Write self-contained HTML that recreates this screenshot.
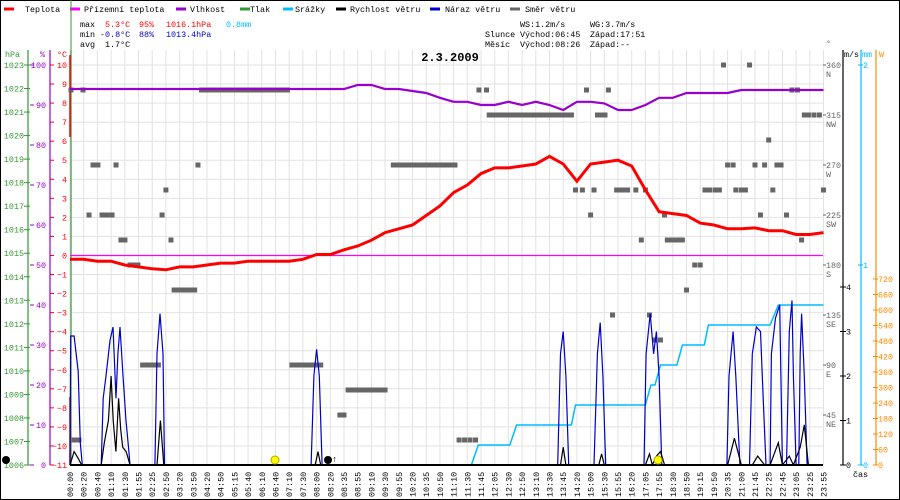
<!DOCTYPE html>
<html><head><meta charset="utf-8"><style>
body{margin:0;background:#fff}
svg{display:block;font-family:"Liberation Mono",monospace}
</style></head><body>
<svg id="c" width="900" height="500" viewBox="0 0 900 500">
<rect x="0.5" y="0.5" width="899" height="499" fill="#fff" stroke="#000"/>
<g id="grid"></g>
<g id="legend" font-size="8.4">
 <line x1="4" y1="9" x2="14" y2="9" stroke="#f00" stroke-width="3"/><text x="25" y="12">Teplota</text>
 <line x1="70" y1="9" x2="80" y2="9" stroke="#f0f" stroke-width="3"/><text x="84" y="12">Přízemní teplota</text>
 <line x1="176" y1="9" x2="186" y2="9" stroke="#90c" stroke-width="3"/><text x="190" y="12">Vlhkost</text>
 <line x1="240" y1="9" x2="250" y2="9" stroke="#393" stroke-width="3"/><text x="250" y="12">Tlak</text>
 <line x1="283" y1="9" x2="293" y2="9" stroke="#0bf" stroke-width="3"/><text x="295" y="12">Srážky</text>
 <line x1="336" y1="9" x2="346" y2="9" stroke="#000" stroke-width="3"/><text x="350" y="12">Rychlost větru</text>
 <line x1="430" y1="9" x2="440" y2="9" stroke="#00c" stroke-width="3"/><text x="445" y="12">Náraz větru</text>
 <line x1="510" y1="9" x2="520" y2="9" stroke="#666" stroke-width="3"/><text x="525" y="12">Směr větru</text>
</g>
<g font-size="8.4">
 <text x="80" y="27">max</text><text x="105" y="27" fill="#f00">5.3°C</text><text x="139" y="27" fill="#f00">95%</text><text x="166" y="27" fill="#f00">1016.1hPa</text><text x="226" y="27" fill="#0bf">0.8mm</text>
 <text x="80" y="37">min</text><text x="100" y="37" fill="#00c">-0.8°C</text><text x="139" y="37" fill="#00c">88%</text><text x="166" y="37" fill="#00c">1013.4hPa</text>
 <text x="80" y="47">avg</text><text x="105" y="47">1.7°C</text>
 <text x="520" y="27">WS:1.2m/s</text><text x="590" y="27">WG:3.7m/s</text>
 <text x="485" y="37">Slunce</text><text x="520" y="37">Východ:06:45</text><text x="590" y="37">Západ:17:51</text>
 <text x="485" y="47">Měsíc</text><text x="520" y="47">Východ:08:26</text><text x="590" y="47">Západ:--</text>
</g>
<text x="450" y="61" font-size="12" font-weight="bold" text-anchor="middle">2.3.2009</text>
<g id="axes" font-size="8.4"></g>
<g id="series"></g>
</svg>
<script>
const NS="http://www.w3.org/2000/svg";
const timeLabels=["00:00","00:20","00:40","01:10","01:30","01:55","02:25","02:50","03:20","03:50","04:20","04:50","05:15","05:40","06:10","06:40","07:10","07:30","08:00","08:20","08:35","08:55","09:10","09:30","09:55","10:20","10:35","10:50","11:10","11:30","11:45","12:05","12:30","12:50","13:10","13:30","13:45","14:20","15:00","15:30","15:55","16:20","17:05","17:55","18:30","18:50","19:15","19:50","20:35","21:00","21:45","22:25","22:45","23:05","23:25","23:55"];
const tempValues=[-0.2,-0.2,-0.3,-0.3,-0.5,-0.6,-0.7,-0.75,-0.6,-0.6,-0.5,-0.4,-0.4,-0.3,-0.3,-0.3,-0.3,-0.2,0.05,0.05,0.3,0.5,0.8,1.2,1.4,1.6,2.1,2.6,3.3,3.7,4.3,4.6,4.6,4.7,4.8,5.2,4.8,3.9,4.8,4.9,5.0,4.7,3.45,2.3,2.2,2.1,1.7,1.6,1.4,1.4,1.45,1.3,1.3,1.1,1.1,1.2];
const humValues=[94,94,94,94,94,94,94,94,94,94,94,94,94,94,94,94,94,94,94,94,94,95,95,94,94,93.5,93,91.8,90.8,90.8,90,90,90.8,90,90.8,90,88.75,90.8,90.8,90.4,88.75,88.75,90,91.8,91.8,93,93,93,93,93.75,93.75,93.75,93.75,93.75,93.75,93.75];
const groundTemp=[0,0];
const dirTimes=[
0.07,0.3,0.65,0.95,1.39,1.68,2.04,2.34,2.7,3.07,3.36,3.72,4.01,4.38,4.67,4.96,
5.3,5.6,5.9,6.2,6.45,6.72,7.0,7.37,7.6,7.9,8.2,8.5,8.8,9.1,9.34,
9.6,9.93,10.26,10.59,10.92,11.25,11.58,11.91,12.24,12.57,12.9,13.23,13.56,13.89,14.22,14.55,14.88,15.21,15.54,15.87,
16.2,16.5,16.8,17.1,17.4,17.7,18.0,18.3,
19.7,20.0,
20.3,20.6,20.9,21.2,21.5,21.8,22.1,22.4,22.7,23.0,
23.6,23.9,24.2,24.5,24.8,25.1,25.4,25.7,26.0,26.3,26.6,26.9,27.2,27.5,27.8,28.1,
28.4,28.8,29.2,29.6,
29.85,30.4,
30.6,30.9,31.2,31.5,31.8,32.1,32.4,32.7,33.0,33.3,33.6,33.9,34.2,34.5,34.8,35.1,35.4,35.7,36.0,36.3,36.6,
36.9,37.4,37.7,38.0,38.25,38.5,38.8,39.05,39.3,39.6,39.9,40.2,40.5,40.7,41.3,41.7,42.0,42.3,42.7,43.1,
43.4,43.6,43.9,44.2,44.5,44.7,45.0,45.6,46.0,46.35,46.7,47.1,47.4,47.7,48.0,48.4,48.6,49.0,49.3,
49.6,50.0,50.4,50.7,51.0,51.3,51.6,51.9,52.3,52.7,53.1,53.4,53.6,53.9,54.3,54.7,55.0];
const dirValues=[
337.5,22.5,22.5,337.5,225,270,270,225,225,225,270,202.5,202.5,180,180,180,
90,90,90,90,90,225,247.5,202.5,157.5,157.5,157.5,157.5,157.5,157.5,270,
337.5,337.5,337.5,337.5,337.5,337.5,337.5,337.5,337.5,337.5,337.5,337.5,337.5,337.5,337.5,337.5,337.5,337.5,337.5,337.5,
90,90,90,90,90,90,90,90,
45,45,
67.5,67.5,67.5,67.5,67.5,67.5,67.5,67.5,67.5,67.5,
270,270,270,270,270,270,270,270,270,270,270,270,270,270,270,270,
22.5,22.5,22.5,22.5,
337.5,337.5,
315,315,315,315,315,315,315,315,315,315,315,315,315,315,315,315,315,315,315,315,315,
247.5,247.5,337.5,225,247.5,315,315,315,337.5,135,247.5,247.5,247.5,247.5,247.5,202.5,247.5,135,112.5,112.5,
225,202.5,202.5,202.5,202.5,202.5,157.5,180,180,247.5,247.5,247.5,247.5,360,270,270,247.5,247.5,247.5,
360,270,225,270,292.5,247.5,270,270,225,337.5,337.5,202.5,315,315,315,315,247.5];
const gustTimes=[0,0.05,0.3,0.6,0.75,0.9,2.28,2.42,2.63,2.92,3.14,3.36,3.5,3.65,3.87,4.09,4.3,4.38,6.2,6.35,6.57,6.79,6.9,17.6,17.8,18.0,18.2,18.4,35.6,35.8,36.0,36.2,36.4,38.25,38.5,38.7,38.9,39.1,41.9,42.05,42.35,42.6,42.8,43.0,43.2,47.95,48.1,48.4,48.6,48.9,49.6,49.8,50.1,50.4,50.6,50.8,51.1,51.2,51.5,51.8,52.0,52.3,52.5,52.7,52.8,53.0,53.2,53.3,53.4,53.6,53.8,54.0];
const gustValues=[0,2.9,2.9,2.1,0.5,0,0,1.5,2.0,2.8,3.1,1.5,2.5,3.1,2.0,1.0,0.3,0,0,2.5,3.4,2.5,0,0,2.0,2.6,2.0,0,0,2.5,3.0,2.0,0,0,2.5,3.2,2.0,0,0,2.5,3.4,2.5,3.0,2.0,0,0,2.0,3.0,2.0,0,0,2.5,3.1,3.0,1.5,0,0,2.5,3.3,3.6,0,0,3.0,3.7,2.0,0,0,2.5,3.4,2.0,0,0];
const windTimes=[0,0.3,0.6,0.85,2.28,2.5,2.8,3.0,3.15,3.35,3.55,3.7,3.85,4.1,4.38,6.35,6.6,6.85,17.9,18.1,18.3,35.8,36.0,36.2,38.6,38.8,39.0,42.0,42.3,42.5,42.8,43.1,43.4,48.0,48.5,49.0,49.8,50.2,50.7,51.1,51.7,52.0,52.5,52.8,53.3,53.6,53.9];
const windValues=[0,0.3,0.15,0,0,0.5,1.0,2.0,1.0,0.3,1.5,0.8,0.4,0.3,0,0,1.0,0,0,0.3,0,0,0.4,0,0,0.25,0,0,0.25,0,0.2,0.3,0,0,0.6,0,0,0.2,0,0,0.5,0,0.2,0,0.4,0.9,0];
const rainTimes=[0,29.3,29.8,32.1,32.6,36.6,36.9,42.0,42.4,42.7,43.1,44.3,44.7,46.3,46.6,51.1,51.7,55];
const rainValues=[0,0,0.1,0.1,0.2,0.2,0.3,0.3,0.4,0.4,0.5,0.5,0.6,0.6,0.7,0.7,0.8,0.8];
const tempTicks=[10,9,8,7,6,5,4,3,2,1,0,-1,-2,-3,-4,-5,-6,-7,-8,-9,-10,-11];
const hpaTicks=[1023,1022,1021,1020,1019,1018,1017,1016,1015,1014,1013,1012,1011,1010,1009,1008,1007,1006];
const humTicks=[100,90,80,70,60,50,40,30,20,10,0];
const dirTicks=[360,315,270,225,180,135,90,45];
const dirNames=["N","NW","W","SW","S","SE","E","NE"];
const msTicks=[0,1,2,3,4];
const mmTicks=[0,1,2];
const wTicks=[0,60,120,180,240,300,360,420,480,540,600,660,720];

const X0=70,DX=13.7,YT=65,YB=465;
const xOf=t=>X0+t*DX;
const yT=v=>YT+(10-v)*(YB-YT)/21;
const yH=v=>YB-v*4;
const yD=v=>YB-v*400/360;
const yW=v=>YB-v*44.5;
const yMm=v=>YB-v*200;
const yP=v=>YT+(1023-v)*(YB-YT)/17;
const yWatt=v=>YB-v*(YB-279)/720;
function el(tag,attrs,parent,txt){const e=document.createElementNS(NS,tag);for(const k in attrs)e.setAttribute(k,attrs[k]);if(txt!==undefined)e.textContent=txt;parent.appendChild(e);return e;}
const grid=document.getElementById('grid'),axes=document.getElementById('axes'),ser=document.getElementById('series');
timeLabels.forEach((lab,i)=>{
 const x=xOf(i);
 const g=el('line',{x1:x,y1:50,x2:x,y2:YB,stroke:'#e2e2e2'},grid);
 
 
 const t=el('text',{x:0,y:0,transform:`translate(${x+3},497) rotate(-90)`,'font-size':'8.4'},axes,lab);
 
 
});
tempTicks.forEach(v=>{
 const y=yT(v);
 const g=el('line',{x1:X0,y1:y,x2:823,y2:y,stroke:'#e2e2e2'},grid);
 
 
 el('line',{x1:50,y1:y,x2:54,y2:y,stroke:'#f00'},axes);
 const t=el('text',{x:67,y:y+3,fill:'#f00','text-anchor':'end'},axes,v<0?'−'+(-v):String(v));
 
 
});
hpaTicks.forEach(v=>{const y=yP(v);el('line',{x1:24,y1:y,x2:30,y2:y,stroke:'#393'},axes);
 const t=el('text',{x:24,y:y+3,fill:'#393','text-anchor':'end'},axes,String(v));
 
 });
humTicks.forEach(v=>{const y=yH(v);el('line',{x1:30,y1:y,x2:34,y2:y,stroke:'#90c'},axes);
 const t=el('text',{x:46,y:y+3,fill:'#90c','text-anchor':'end'},axes,String(v));
 
 });
dirTicks.forEach((v,i)=>{const y=yD(v);el('line',{x1:823,y1:y,x2:826,y2:y,stroke:'#666'},axes);
 const t=el('text',{x:826,y:y+3,fill:'#666'},axes,String(v));
 
 
 el('text',{x:826,y:y+12,fill:'#666'},axes,dirNames[i]);});
msTicks.forEach(v=>{const y=yW(v);el('line',{x1:840,y1:y,x2:846,y2:y,stroke:'#000'},axes);
 const t=el('text',{x:846,y:y+3},axes,String(v));
 
 });
mmTicks.forEach(v=>{const y=yMm(v);el('line',{x1:858,y1:y,x2:863,y2:y,stroke:'#0bf'},axes);
 const t=el('text',{x:863,y:y+3,fill:'#0bf'},axes,String(v));
 
 });
wTicks.forEach(v=>{const y=yWatt(v);el('line',{x1:873,y1:y,x2:878,y2:y,stroke:'#f80'},axes);
 const t=el('text',{x:878,y:y+3,fill:'#f80'},axes,String(v));
 
 });
[[28,'#393'],[50,'#90c'],[71,'#393'],[843,'#000'],[861,'#0bf'],[876,'#f80']].forEach(([x,c])=>el('line',{x1:x,y1:50,x2:x,y2:YB,stroke:c,'stroke-width':1.2},axes));
el('line',{x1:71,y1:0,x2:71,y2:50,stroke:'#393'},axes);
el('line',{x1:70,y1:55,x2:70,y2:137,stroke:'#f00','stroke-width':1.5},axes);
el('line',{x1:70,y1:397,x2:70,y2:465,stroke:'#f00','stroke-width':1.5},axes);
el('text',{x:5,y:57,fill:'#393'},axes,'hPa');el('text',{x:40,y:57,fill:'#90c'},axes,'%');el('text',{x:57,y:57,fill:'#f00'},axes,'°C');
el('text',{x:826,y:46,fill:'#666'},axes,'°');el('text',{x:844,y:57},axes,'m/s');el('text',{x:862,y:57,fill:'#0bf'},axes,'mm');el('text',{x:879,y:57,fill:'#f80'},axes,'W');
el('text',{x:853,y:477},axes,'čas');
const pts=(ts,vs,yf)=>ts.map((t,i)=>xOf(t).toFixed(1)+','+yf(vs[i]).toFixed(1)).join(' ');
const idx=tempValues.map((_,i)=>i);
const g0=el('line',{x1:X0,y1:yT(groundTemp[0]),x2:823,y2:yT(groundTemp[1]),stroke:'#f0f','stroke-width':1.2},ser);


dirTimes.forEach((t,i)=>{const r=el('rect',{x:xOf(t)-2.5,y:yD(dirValues[i])-2.5,width:5,height:5,fill:'#666'},ser);
 
 });
const rain=el('polyline',{points:pts(rainTimes,rainValues,yMm),fill:'none',stroke:'#0bf','stroke-width':1.5},ser);


const gust=el('polyline',{points:pts(gustTimes,gustValues,yW),fill:'none',stroke:'#00c','stroke-width':1.2},ser);


const wind=el('polyline',{points:pts(windTimes,windValues,yW),fill:'none',stroke:'#000','stroke-width':1.2},ser);


el('line',{x1:X0,y1:YB,x2:823,y2:YB,stroke:'#000','stroke-width':2},ser);
const hum=el('polyline',{points:pts(idx,humValues,yH),fill:'none',stroke:'#90c','stroke-width':2.2},ser);


const temp=el('polyline',{points:pts(idx,tempValues,yT),fill:'none',stroke:'#f00','stroke-width':3},ser);


el('circle',{cx:6,cy:460,r:4,fill:'#000'},ser);
el('circle',{cx:275,cy:460,r:4,fill:'#ff0',stroke:'#aa0'},ser);
el('circle',{cx:328,cy:460,r:4,fill:'#000'},ser);
el('text',{x:332,y:462,'font-size':'9'},ser,'↑');
el('circle',{cx:658,cy:460,r:4,fill:'#ff0',stroke:'#aa0'},ser);
</script>
</body></html>
